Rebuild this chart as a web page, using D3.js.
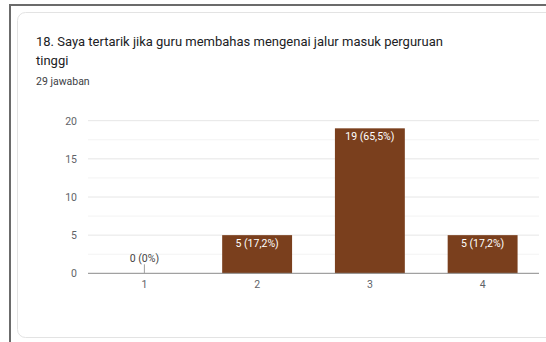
<!DOCTYPE html>
<html>
<head>
<meta charset="utf-8">
<script src="https://cdn.jsdelivr.net/npm/d3@7"></script>
<style>
  html, body { margin: 0; padding: 0; background: #fff; }
  svg { display: block; font-family: Roboto, Arial, sans-serif; }
</style>
</head>
<body>
<svg id="chart" width="546" height="342"></svg>
<script>
// Survey responses for question 18
const categories = ["1", "2", "3", "4"];
const counts = [0, 5, 19, 5];
const percentLabels = ["0%", "17,2%", "65,5%", "17,2%"];
const yTicks = [0, 5, 10, 15, 20];
const titleLines = ["18. Saya tertarik jika guru membahas mengenai jalur masuk perguruan", "tinggi"];
const responseNote = "29 jawaban";

const svg = d3.select("#chart");
const W = 546, H = 342;

// Outer frame (top and left edges) and card
svg.append("line").attr("x1", 10).attr("x2", W).attr("y1", 5).attr("y2", 5)
  .attr("stroke", "#6b6b6b").attr("stroke-width", 2);
svg.append("line").attr("x1", 10).attr("x2", 10).attr("y1", 4).attr("y2", H)
  .attr("stroke", "#6b6b6b").attr("stroke-width", 2);
svg.append("rect").attr("x", 17.5).attr("y", 12.5).attr("width", W + 20).attr("height", 325)
  .attr("rx", 8).attr("fill", "#fff").attr("stroke", "#e3e3e3");

// Title
svg.selectAll("text.title").data(titleLines).join("text")
  .attr("class", "title")
  .attr("x", 36).attr("y", (d, i) => 46 + i * 19)
  .attr("font-size", 13).attr("fill", "#202124")
  .text(d => d);
svg.append("text").attr("x", 36).attr("y", 85)
  .attr("font-size", 10.5).attr("fill", "#3c4043").text(responseNote);

// Plot area
const margin = { left: 88, right: 539, top: 120.7, bottom: 273.3 };
const x = d3.scaleBand().domain(categories).range([margin.left, margin.right]).paddingInner(0.38).paddingOuter(0.19);
const y = d3.scaleLinear().domain([0, 20]).range([margin.bottom, margin.top]);

// Gridlines: major at ticks, minor halfway between
const minor = d3.range(2.5, 20, 5);
svg.append("g").selectAll("line").data(minor).join("line")
  .attr("x1", margin.left).attr("x2", margin.right)
  .attr("y1", d => y(d)).attr("y2", d => y(d))
  .attr("stroke", "#f3f3f3");
svg.append("g").selectAll("line").data(yTicks.filter(t => t > 0)).join("line")
  .attr("x1", margin.left).attr("x2", margin.right)
  .attr("y1", d => y(d)).attr("y2", d => y(d))
  .attr("stroke", "#e6e6e6");

// Y axis labels
const yAxis = d3.axisLeft(y).tickValues(yTicks).tickSize(0).tickPadding(11);
const gy = svg.append("g").attr("transform", `translate(${margin.left},0)`).call(yAxis);
gy.select(".domain").remove();
gy.selectAll("text").attr("font-family", "Roboto, Arial, sans-serif").attr("font-size", 10.5).attr("fill", "#5f6368");

// Bars
const barColor = "#7a3f1d";
svg.append("g").selectAll("rect").data(counts).join("rect")
  .attr("x", (d, i) => x(categories[i]))
  .attr("y", d => y(d))
  .attr("width", x.bandwidth())
  .attr("height", d => y(0) - y(d))
  .attr("fill", barColor);

// Baseline
svg.append("line").attr("x1", margin.left).attr("x2", margin.right)
  .attr("y1", y(0)).attr("y2", y(0)).attr("stroke", "#8a8a8a").attr("stroke-width", 1);

// Value labels
counts.forEach((d, i) => {
  const cx = x(categories[i]) + x.bandwidth() / 2;
  const label = `${d} (${percentLabels[i]})`;
  if (d === 0) {
    svg.append("line").attr("x1", cx).attr("x2", cx).attr("y1", y(0) - 9).attr("y2", y(0))
      .attr("stroke", "#a0a0a0");
    svg.append("text").attr("x", cx).attr("y", y(0) - 11)
      .attr("text-anchor", "middle").attr("font-size", 10.5).attr("fill", "#444").text(label);
  } else {
    svg.append("text").attr("x", cx).attr("y", y(d) + 11.5)
      .attr("text-anchor", "middle").attr("font-size", 10.5).attr("fill", "#fff").text(label);
  }
});

// X axis labels
const xAxis = d3.axisBottom(x).tickSize(0).tickPadding(7);
const gx = svg.append("g").attr("transform", `translate(0,${y(0)})`).call(xAxis);
gx.select(".domain").remove();
gx.selectAll("text").attr("font-family", "Roboto, Arial, sans-serif").attr("font-size", 10.5).attr("fill", "#5f6368");
</script>
</body>
</html>
